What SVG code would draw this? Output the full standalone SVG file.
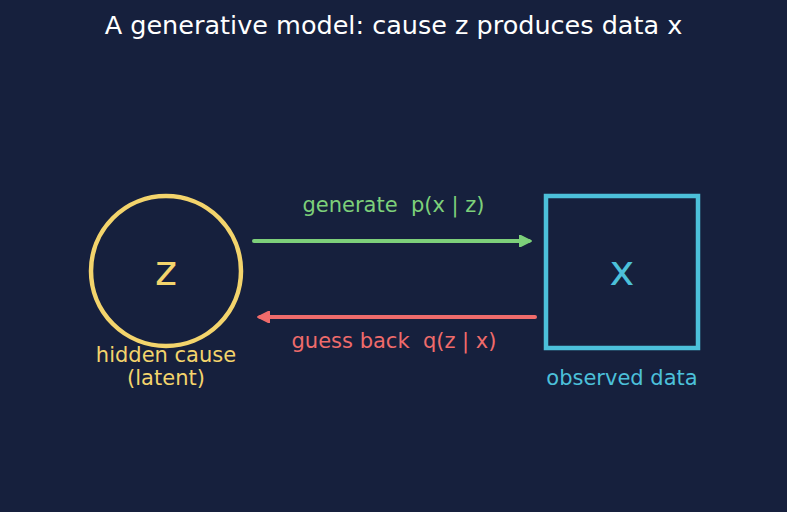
<svg xmlns="http://www.w3.org/2000/svg" width="787" height="512" viewBox="0 0 787 512">
<defs>
<style>
text{font-family:"DejaVu Sans","Liberation Sans",sans-serif;text-anchor:middle;white-space:pre}
.title{font-size:25.5px;fill:#ffffff}
.lbl{font-size:21px}
.big{font-size:42px}
</style>
<marker id="ag" viewBox="0 0 10 10" refX="8" refY="5" markerWidth="3.2" markerHeight="3.2" orient="auto"><path d="M0,0 L10,5 L0,10 z" fill="#7dd07a" stroke="#7dd07a" stroke-linejoin="round"/></marker>
<marker id="ar" viewBox="0 0 10 10" refX="8" refY="5" markerWidth="3.2" markerHeight="3.2" orient="auto"><path d="M0,0 L10,5 L0,10 z" fill="#ef6b6b" stroke="#ef6b6b" stroke-linejoin="round"/></marker>
</defs>
<rect width="787" height="512" fill="#16203d"/>
<text class="title" x="393.5" y="34">A generative model: cause z produces data x</text>
<g id="z">
<circle cx="166" cy="271" r="75" fill="none" stroke="#f3d46c" stroke-width="4.5"/>
<text class="big" x="166" y="285" fill="#f3d46c">z</text>
<text class="lbl" x="166" y="362" fill="#f3d46c">hidden cause</text>
<text class="lbl" x="166" y="385" fill="#f3d46c">(latent)</text>
</g>
<g id="x">
<rect x="546" y="196" width="152" height="152" fill="none" stroke="#4cc0da" stroke-width="4.5"/>
<text class="big" x="622" y="285" fill="#4cc0da">x</text>
<text class="lbl" x="622" y="385" fill="#4cc0da">observed data</text>
</g>
<g id="connectors">
<line x1="254" y1="241" x2="529" y2="241" stroke="#7dd07a" stroke-width="4" stroke-linecap="round" marker-end="url(#ag)"/>
<text class="lbl" x="393.5" y="212" fill="#7dd07a" xml:space="preserve">generate  p(x | z)</text>
<line x1="535" y1="317" x2="260" y2="317" stroke="#ef6b6b" stroke-width="4" stroke-linecap="round" marker-end="url(#ar)"/>
<text class="lbl" x="394" y="348" fill="#ef6b6b" xml:space="preserve">guess back  q(z | x)</text>
</g>
</svg>
